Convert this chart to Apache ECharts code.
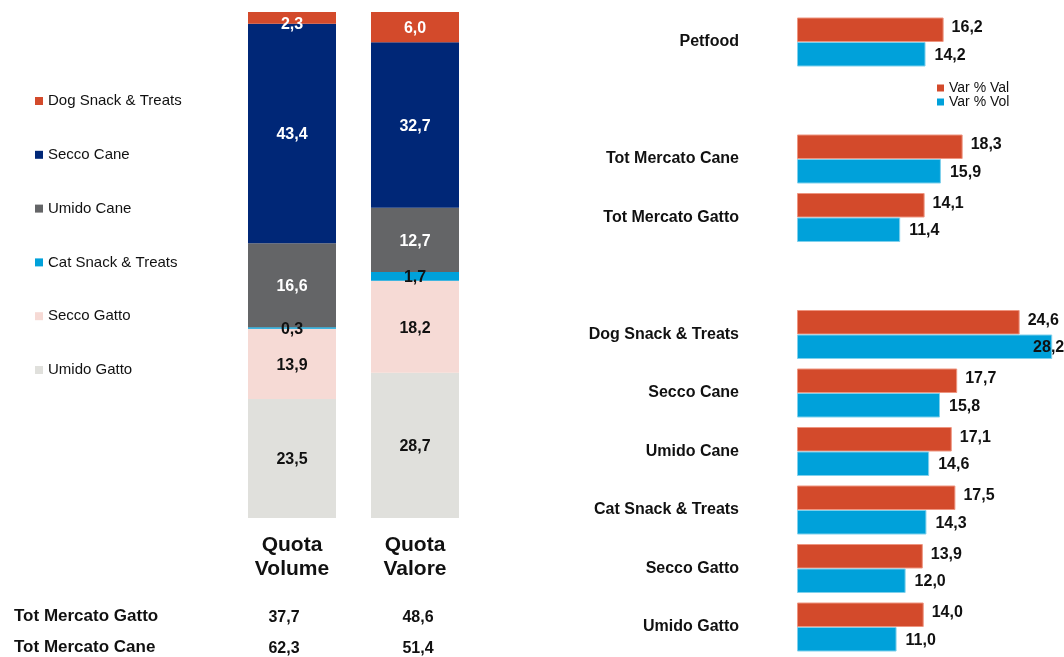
<!DOCTYPE html>
<html>
<head>
<meta charset="utf-8">
<title>Petfood</title>
<script src="https://cdn.jsdelivr.net/npm/echarts@6/dist/echarts.min.js"></script>
<style>
  html, body { margin: 0; padding: 0; background: #fff; }
  #chart { width: 1064px; height: 657px; }
</style>
</head>
<body>
<div id="chart"></div>
<script>
// quote (stacked, from bottom to top)
const quotaCats = ['Quota\nVolume', 'Quota\nValore'];
const segNames = ['Umido Gatto', 'Secco Gatto', 'Cat Snack & Treats', 'Umido Cane', 'Secco Cane', 'Dog Snack & Treats'];
const segVolume = [23.5, 13.9, 0.3, 16.6, 43.4, 2.3];
const segValore = [28.7, 18.2, 1.7, 12.7, 32.7, 6.0];

// totali sotto le barre
const totNames = ['Tot Mercato Gatto', 'Tot Mercato Cane'];
const totVolume = [37.7, 62.3];
const totValore = [48.6, 51.4];

// variazioni % (barre orizzontali)
const varCats = ['Petfood', 'Tot Mercato Cane', 'Tot Mercato Gatto', 'Dog Snack & Treats', 'Secco Cane', 'Umido Cane', 'Cat Snack & Treats', 'Secco Gatto', 'Umido Gatto'];
const varVal = [16.2, 18.3, 14.1, 24.6, 17.7, 17.1, 17.5, 13.9, 14.0];
const varVol = [14.2, 15.9, 11.4, 28.2, 15.8, 14.6, 14.3, 12.0, 11.0];
const gapsAfter = ['Petfood', 'Tot Mercato Gatto']; // empty row after these

const segColors = ['#E0E0DC', '#F6DAD5', '#00A1DA', '#646567', '#002777', '#D34A2B'];
const segLabelColors = ['#111', '#111', '#111', '#fff', '#fff', '#fff'];
const RED = '#D34A2B';
const BLUE = '#00A1DA';
const FONT = '"Liberation Sans", Arial, sans-serif';

function fmt(v) {
    return Number(v).toFixed(1).replace('.', ',');
}

// build rows with empty separators
const rowCats = [];
const rowVal = [];
const rowVol = [];
varCats.forEach(function (c, i) {
    rowCats.push(c);
    rowVal.push(varVal[i]);
    rowVol.push(varVol[i]);
    if (gapsAfter.indexOf(c) >= 0) {
        rowCats.push('');
        rowVal.push('-');
        rowVol.push('-');
    }
});

const chart = echarts.init(document.getElementById('chart'));

const lastSeg = segNames.length - 1;
const stackSeries = segNames.map(function (name, i) {
    return {
        name: name,
        type: 'bar',
        stack: 'quota',
        xAxisIndex: 0,
        yAxisIndex: 0,
        barWidth: 88,
        data: [segVolume[i], segValore[i]].map(function (v) {
            // thin top segment: label sits lower, on the edge
            if (i === lastSeg && v < 3) {
                return { value: v, label: { offset: [0, 7] } };
            }
            return v;
        }),
        itemStyle: { color: segColors[i] },
        label: {
            show: true,
            position: 'inside',
            color: segLabelColors[i],
            fontFamily: FONT,
            fontWeight: 'bold',
            fontSize: 16,
            offset: [0, 1.5],
            formatter: function (p) { return fmt(p.value); }
        }
    };
});

function hbarData(arr) {
    return arr.map(function (v) {
        if (v !== '-' && v > 27) {
            // label does not fit right of the bar: pull it back inside
            return { value: v, label: { position: 'insideRight', distance: -12 } };
        }
        return v;
    });
}

const graphics = [];
totNames.forEach(function (n, i) {
    const y = 618 + i * 31;
    graphics.push({ type: 'text', left: 14, top: y - 10, style: { text: n, font: 'bold 17px ' + FONT, fill: '#111' } });
    graphics.push({ type: 'text', x: 284, y: y, style: { text: fmt(totVolume[i]), font: 'bold 16px ' + FONT, fill: '#111', align: 'center', verticalAlign: 'middle' } });
    graphics.push({ type: 'text', x: 418, y: y, style: { text: fmt(totValore[i]), font: 'bold 16px ' + FONT, fill: '#111', align: 'center', verticalAlign: 'middle' } });
});

const option = {
    animation: false,
    textStyle: { fontFamily: FONT },
    legend: [
        {
            data: segNames.slice().reverse(),
            orient: 'vertical',
            left: 35,
            top: 93.5,
            padding: 0,
            itemWidth: 8,
            itemHeight: 8,
            itemGap: 38.8,
            icon: 'rect',
            itemStyle: { borderWidth: 0 },
            textStyle: { fontFamily: FONT, fontSize: 15, lineHeight: 14, color: '#111' }
        },
        {
            data: ['Var % Val', 'Var % Vol'],
            orient: 'vertical',
            left: 937,
            top: 81,
            padding: 0,
            itemWidth: 7,
            itemHeight: 7,
            itemGap: 0,
            icon: 'rect',
            itemStyle: { borderWidth: 0 },
            textStyle: { fontFamily: FONT, fontSize: 14, lineHeight: 14, color: '#111' }
        }
    ],
    grid: [
        { left: 230.5, right: 587.5, top: 12, bottom: 139 },
        { left: 797, right: 0, top: 12.75, bottom: 0.75 }
    ],
    xAxis: [
        {
            type: 'category',
            gridIndex: 0,
            data: quotaCats,
            axisLine: { show: false },
            axisTick: { show: false },
            axisLabel: {
                margin: 15,
                fontFamily: FONT,
                fontWeight: 'bold',
                fontSize: 21,
                lineHeight: 24,
                color: '#111'
            }
        },
        {
            type: 'value',
            gridIndex: 1,
            min: 0,
            max: 29.5,
            show: false
        }
    ],
    yAxis: [
        {
            type: 'value',
            gridIndex: 0,
            min: 0,
            max: 100,
            show: false
        },
        {
            type: 'category',
            gridIndex: 1,
            inverse: true,
            data: rowCats,
            axisLine: { show: false },
            axisTick: { show: false },
            axisLabel: {
                margin: 58,
                fontFamily: FONT,
                fontWeight: 'bold',
                fontSize: 16,
                color: '#111'
            }
        }
    ],
    series: stackSeries.concat([
        {
            name: 'Var % Val',
            type: 'bar',
            xAxisIndex: 1,
            yAxisIndex: 1,
            barWidth: 24.5,
            barGap: '0%',
            data: hbarData(rowVal),
            itemStyle: { color: RED, borderColor: '#EE9580', borderWidth: 1 },
            label: {
                show: true,
                position: 'right',
                distance: 8,
                color: '#111',
                fontFamily: FONT,
                fontWeight: 'bold',
                fontSize: 16,
                offset: [0, -2],
                formatter: function (p) { return fmt(p.value); }
            }
        },
        {
            name: 'Var % Vol',
            type: 'bar',
            xAxisIndex: 1,
            yAxisIndex: 1,
            barWidth: 24.5,
            barGap: '0%',
            data: hbarData(rowVol),
            itemStyle: { color: BLUE, borderColor: '#7FD0EC', borderWidth: 1 },
            label: {
                show: true,
                position: 'right',
                distance: 9,
                color: '#111',
                fontFamily: FONT,
                fontWeight: 'bold',
                fontSize: 16,
                offset: [0, 1],
                formatter: function (p) { return fmt(p.value); }
            }
        }
    ]),
    graphic: graphics
};

chart.setOption(option);

window.addEventListener('resize', function () {
    chart.resize();
});
</script>
</body>
</html>
